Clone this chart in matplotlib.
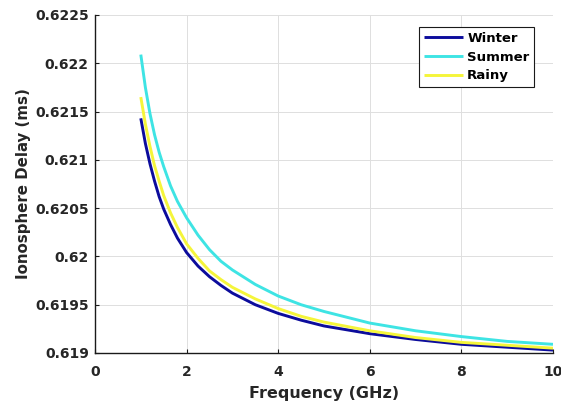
import matplotlib
matplotlib.use("Agg")
import matplotlib.pyplot as plt
from matplotlib.ticker import FuncFormatter, MultipleLocator

plt.rcParams['font.family'] = ['DejaVu Sans']
plt.rcParams['font.weight'] = 'bold'

freq = [1.0, 1.1, 1.2, 1.3, 1.4, 1.5, 1.65, 1.8, 2.0, 2.25, 2.5, 2.75, 3.0,
        3.5, 4.0, 4.5, 5.0, 6.0, 7.0, 8.0, 9.0, 10.0]
winter = [0.62143, 0.62117, 0.62096, 0.62078, 0.62062, 0.62049, 0.62033, 0.62019,
          0.62004, 0.61990, 0.61979, 0.61970, 0.61962, 0.61950, 0.61941, 0.61934,
          0.61928, 0.61920, 0.61914, 0.61909, 0.61906, 0.61903]
summer = [0.62209, 0.62175, 0.62148, 0.62126, 0.62108, 0.62093, 0.62073, 0.62057,
          0.62040, 0.62022, 0.62007, 0.61995, 0.61986, 0.61971, 0.61959, 0.61950,
          0.61943, 0.61931, 0.61923, 0.61917, 0.61912, 0.61909]
rainy = [0.62165, 0.62137, 0.62114, 0.62094, 0.62078, 0.62063, 0.62045, 0.62030,
         0.62013, 0.61998, 0.61985, 0.61976, 0.61968, 0.61956, 0.61946, 0.61938,
         0.61932, 0.61923, 0.61916, 0.61911, 0.61908, 0.61905]
labels = ['Winter', 'Summer', 'Rainy']
colors = ['#0c0c9c', '#3ee4e4', '#f5f53a']

W, H = 561, 405
fig = plt.figure(figsize=(W / 100, H / 100), dpi=100)
ax = fig.add_axes([95 / W, 1 - 353 / H, (553 - 95) / W, (353 - 15) / H])

for series, lab, col in zip([winter, summer, rainy], labels, colors):
    ax.plot(freq, series, color=col, lw=2.1, label=lab, solid_capstyle='butt',
            solid_joinstyle='round')

ax.set_xlim(0, 10)
ax.set_ylim(0.619, 0.6225)
ax.xaxis.set_major_locator(MultipleLocator(2))
ax.yaxis.set_major_locator(MultipleLocator(0.0005))
ax.yaxis.set_major_formatter(FuncFormatter(lambda v, p: ('%.4f' % v).rstrip('0').rstrip('.')))

ax.grid(True, color='#dedede', lw=0.7)
ax.set_axisbelow(True)
for s in ['top', 'right']:
    ax.spines[s].set_visible(False)
for s in ['left', 'bottom']:
    ax.spines[s].set_color('#1a1a1a')
    ax.spines[s].set_linewidth(1.0)

ax.tick_params(axis='both', direction='in', length=3, width=0.8, color='#1a1a1a',
               labelsize=10, labelcolor='#262626')
ax.tick_params(axis='x', pad=9)
ax.tick_params(axis='y', pad=4.5)
for t in ax.get_xticklabels() + ax.get_yticklabels():
    t.set_fontweight('bold')

ax.set_xlabel('Frequency (GHz)', fontsize=11.5, fontweight='bold', color='#262626', labelpad=5)
ax.set_ylabel('Ionosphere Delay (ms)', fontsize=10.8, fontweight='bold', color='#262626', labelpad=3)

leg = ax.legend(loc='upper right', bbox_to_anchor=(534 / W, 1 - 27 / H),
                bbox_transform=fig.transFigure, borderaxespad=0, fancybox=False,
                framealpha=1, edgecolor='#1a1a1a', prop={'weight': 'bold', 'size': 9.5},
                handlelength=3.0, handletextpad=0.3, labelspacing=0.45,
                borderpad=0.35)
leg.get_frame().set_linewidth(0.8)

fig.savefig('out.png', dpi=100)
